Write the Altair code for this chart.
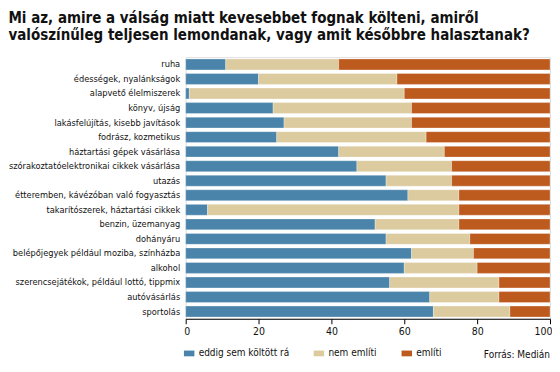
import altair as alt
import pandas as pd

categories = [
    "ruha",
    "édességek, nyalánkságok",
    "alapvető élelmiszerek",
    "könyv, újság",
    "lakásfelújítás, kisebb javítások",
    "fodrász, kozmetikus",
    "háztartási gépek vásárlása",
    "szórakoztatóelektronikai cikkek vásárlása",
    "utazás",
    "étteremben, kávézóban való fogyasztás",
    "takarítószerek, háztartási cikkek",
    "benzin, üzemanyag",
    "dohányáru",
    "belépőjegyek például moziba, színházba",
    "alkohol",
    "szerencsejátékok, például lottó, tippmix",
    "autóvásárlás",
    "sportolás",
]
eddig_sem = [11, 20, 1, 24, 27, 25, 42, 47, 55, 61, 6, 52, 55, 62, 60, 56, 67, 68]
nem_emliti = [31, 38, 59, 38, 35, 41, 29, 26, 18, 14, 69, 23, 23, 17, 20, 30, 19, 21]
emliti = [58, 42, 40, 38, 38, 34, 29, 27, 27, 25, 25, 25, 22, 21, 20, 14, 14, 11]

series_names = ["eddig sem költött rá", "nem említi", "említi"]
series_colors = ["#4a84ab", "#dccb9f", "#bd5a1e"]

rows = []
for i, c in enumerate(categories):
    for k, (name, vals) in enumerate(zip(series_names, [eddig_sem, nem_emliti, emliti])):
        rows.append({"kategoria": c, "sorozat": name, "ertek": vals[i], "rend": k})
df = pd.DataFrame(rows)

FONT = "DejaVu Sans Condensed, Roboto, sans-serif"

bars = alt.Chart(df).mark_bar(stroke="#ffffff", strokeWidth=0.3).encode(
    y=alt.Y("kategoria:N", sort=categories, title=None,
            scale=alt.Scale(paddingInner=0.25, paddingOuter=0.12),
            axis=alt.Axis(domain=False, ticks=False, labelPadding=6,
                          labelFont=FONT, labelFontSize=9.2, labelColor="#111",
                          labelLimit=200)),
    x=alt.X("ertek:Q", stack="zero", title=None,
            scale=alt.Scale(domain=[0, 100], nice=False),
            axis=alt.Axis(values=[0, 20, 40, 60, 80, 100], grid=False,
                          domainColor="#000", tickColor="#000", tickSize=5,
                          labelFont=FONT, labelFontSize=10.5, labelColor="#111",
                          labelPadding=3, labelFlush=True, labelFlushOffset=2)),
    color=alt.Color("sorozat:N", sort=series_names,
                    scale=alt.Scale(domain=series_names, range=series_colors),
                    legend=alt.Legend(title=None, orient="none", direction="horizontal",
                                      legendX=-2, legendY=291,
                                      symbolType="M-1,-0.55H1V0.55H-1Z", symbolSize=110,
                                      symbolStrokeWidth=0, columnPadding=24,
                                      labelFont=FONT, labelFontSize=10, labelColor="#111")),
    order=alt.Order("rend:Q"),
)

source = alt.Chart(pd.DataFrame({"t": ["Forrás: Medián"]})).mark_text(
    align="right", baseline="middle", font=FONT, fontSize=10, color="#111"
).encode(text="t:N", x=alt.value(365), y=alt.value(298))

chart = alt.layer(bars, source).properties(
    width=365, height=262,
    padding={"left": 0, "top": 3, "right": 0, "bottom": 0},
    title=alt.TitleParams(
        ["Mi az, amire a válság miatt kevesebbet fognak költeni, amiről",
         "valószínűleg teljesen lemondanak, vagy amit későbbre halasztanak?"],
        anchor="start", frame="bounds", font=FONT, fontSize=15, fontWeight="bold",
        color="#111", lineHeight=17, offset=14),
).configure_view(stroke=None).configure(background="white")

chart.save("out.html", embed_options={"renderer": "svg", "actions": False})
